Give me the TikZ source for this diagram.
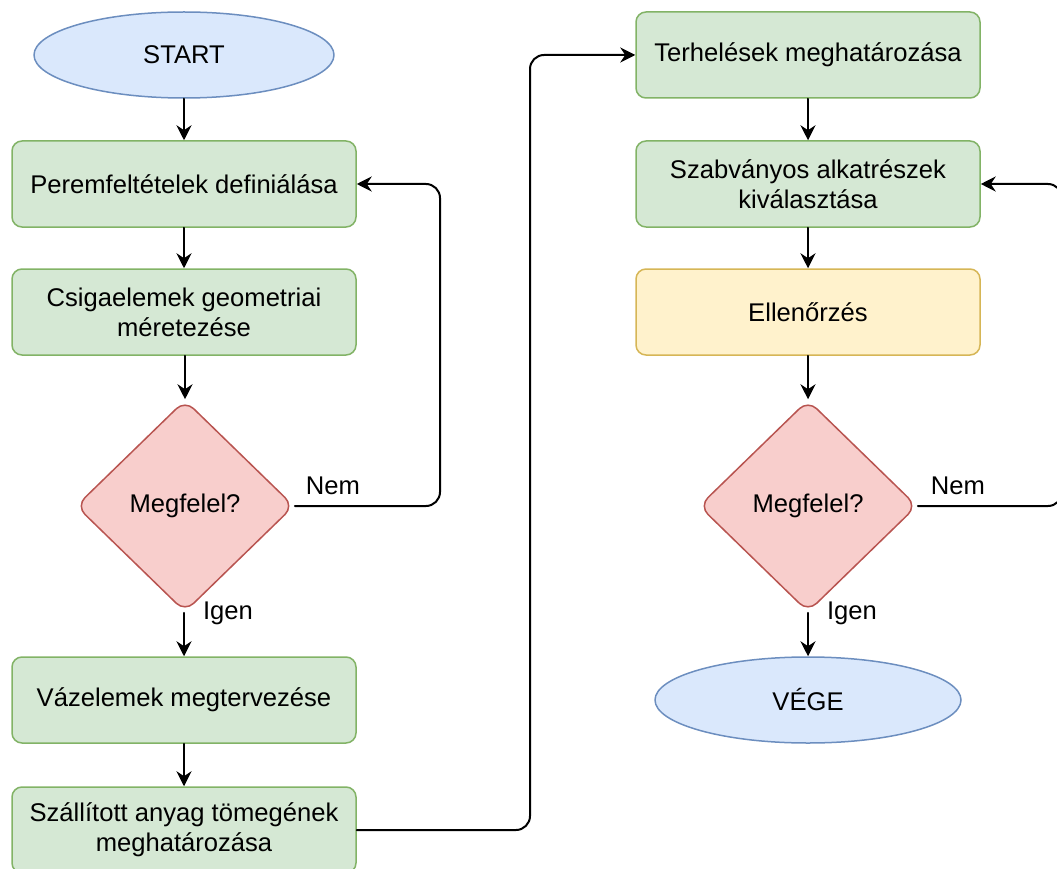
\documentclass[tikz,border=0pt]{standalone}
\usepackage{fontspec}
\setmainfont{Liberation Sans}
\usetikzlibrary{shapes.geometric,arrows.meta}
\definecolor{grfill}{HTML}{D5E8D4}\definecolor{grline}{HTML}{82B366}
\definecolor{blfill}{HTML}{DAE8FC}\definecolor{blline}{HTML}{6C8EBF}
\definecolor{yefill}{HTML}{FFF2CC}\definecolor{yeline}{HTML}{D6B656}
\definecolor{refill}{HTML}{F8CECC}\definecolor{reline}{HTML}{B85450}
\begin{document}
\begin{tikzpicture}[x=1pt, y=-1pt, font=\fontsize{25.6}{30}\selectfont, line join=round, line cap=round,
  box/.style={draw=grline, fill=grfill, line width=1.5pt, rounded corners=10pt, minimum width=344pt, minimum height=86pt, inner sep=0pt, align=center},
  check/.style={box, draw=yeline, fill=yefill},
  term/.style={ellipse, draw=blline, fill=blfill, line width=1.5pt, minimum width=300pt, minimum height=86pt, inner sep=0pt},
  decide/.style={diamond, aspect=1, draw=reline, fill=refill, line width=1.5pt, rounded corners=12pt, minimum width=218pt, minimum height=212pt, inner sep=0pt},
  arr/.style={-{Stealth[length=15pt,width=15pt,inset=5pt]}, line width=2pt}]
\useasboundingbox (0,0) rectangle (1057,869);
% left column
\node[term] (start) at (184,55) {START};
\node[box] (perem) at (184,184) {Peremfeltételek definiálása};
\node[box] (csiga) at (184,312) {Csigaelemek geometriai\\méretezése};
\node[decide] (dec1) at (185,506) {Megfelel?};
\node[box] (vaz) at (184,700) {Vázelemek megtervezése};
\node[box] (tomeg) at (184,830) {Szállított anyag tömegének\\meghatározása};
% right column
\node[box] (terh) at (808,55) {Terhelések meghatározása};
\node[box] (szab) at (808,184) {Szabványos alkatrészek\\kiválasztása};
\node[check] (ell) at (808,312) {Ellenőrzés};
\node[decide] (dec2) at (808,506) {Megfelel?};
\node[term, minimum width=306pt] (vege) at (808,700) {VÉGE};
\coordinate (lx) at (440,0);
\coordinate (mx) at (530,0);
\coordinate (rx) at (1062,0);
\foreach \a/\b in {start/perem,perem/csiga,csiga/dec1,dec1/vaz,vaz/tomeg,terh/szab,szab/ell,ell/dec2,dec2/vege}
  \draw[arr] (\a.south -| \b) -- (\b);
\draw[arr, rounded corners=14pt] (dec1.east) -- (dec1.east -| lx) -- (perem.east -| lx) -- (perem.east);
\draw[arr, rounded corners=14pt] (dec2.east) -- (dec2.east -| rx) -- (szab.east -| rx) -- (szab.east);
\draw[arr, rounded corners=14pt] (tomeg.east) -- (tomeg.east -| mx) -- (terh.west -| mx) -- (terh.west);
\node (nem1) at (333,486) {Nem};
\node (nem2) at (958,486) {Nem};
\node (igen1) at (228,613) {Igen};
\node (igen2) at (852,613) {Igen};
\end{tikzpicture}
\end{document}
